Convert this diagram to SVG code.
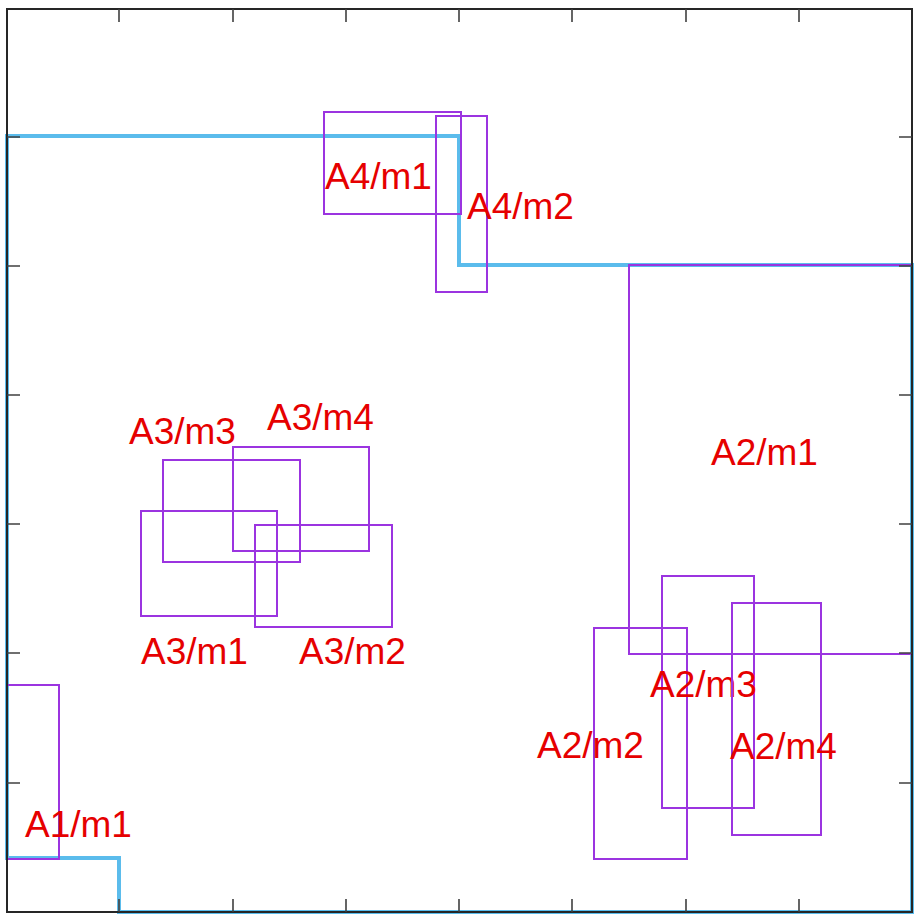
<svg xmlns="http://www.w3.org/2000/svg" width="922" height="923" viewBox="0 0 922 923">
<style>
.bg{fill:#ffffff}
.zone{fill:none;stroke:#5bbcec;stroke-width:4;stroke-linejoin:miter}
.box{fill:none;stroke:#9b34e0;stroke-width:2}
.axis{fill:none;stroke:#262626;stroke-width:2}
.tick{stroke:#404040;stroke-width:1.6}
.lbl{font-family:"Liberation Sans",Arial,sans-serif;font-size:37px;fill:#e60000}
</style>
<rect class="bg" x="0" y="0" width="922" height="923"/>
<g id="connectors">
<path class="zone" d="M7,136 H459 V265 H912 V912 H119 V858 H7 Z"/>
</g>
<g id="A4-m1"><rect class="box" x="324" y="112" width="137" height="102"/><text class="lbl" x="325" y="189">A4/m1</text></g>
<g id="A4-m2"><rect class="box" x="436" y="116" width="51" height="176"/><text class="lbl" x="467" y="219">A4/m2</text></g>
<g id="A2-m1"><rect class="box" x="629" y="265" width="283" height="389"/><text class="lbl" x="711" y="465">A2/m1</text></g>
<g id="A2-m2"><rect class="box" x="594" y="628" width="93" height="231"/><text class="lbl" x="537" y="758">A2/m2</text></g>
<g id="A2-m3"><rect class="box" x="662" y="576" width="92" height="232"/><text class="lbl" x="650" y="697">A2/m3</text></g>
<g id="A2-m4"><rect class="box" x="732" y="603" width="89" height="232"/><text class="lbl" x="730" y="759">A2/m4</text></g>
<g id="A3-m1"><rect class="box" x="141" y="511" width="136" height="105"/><text class="lbl" x="141" y="664">A3/m1</text></g>
<g id="A3-m2"><rect class="box" x="255" y="525" width="137" height="102"/><text class="lbl" x="299" y="664">A3/m2</text></g>
<g id="A3-m3"><rect class="box" x="163" y="460" width="137" height="102"/><text class="lbl" x="129" y="444">A3/m3</text></g>
<g id="A3-m4"><rect class="box" x="233" y="447" width="136" height="104"/><text class="lbl" x="267" y="430">A3/m4</text></g>
<g id="A1-m1"><rect class="box" x="7" y="685" width="52" height="174"/><text class="lbl" x="25" y="837">A1/m1</text></g>
<g id="axes">
<rect class="axis" x="7" y="9" width="905" height="903"/>
<path class="tick" d="M119,9 V22 M233,9 V22 M346,9 V22 M459,9 V22 M572,9 V22 M686,9 V22 M799,9 V22
M119,912 V899 M233,912 V899 M346,912 V899 M459,912 V899 M572,912 V899 M686,912 V899 M799,912 V899
M912,137 H899 M912,266 H899 M912,395 H899 M912,524 H899 M912,653 H899 M912,783 H899
M7,137 H20 M7,266 H20 M7,395 H20 M7,524 H20 M7,653 H20 M7,783 H20"/>
</g>
</svg>
